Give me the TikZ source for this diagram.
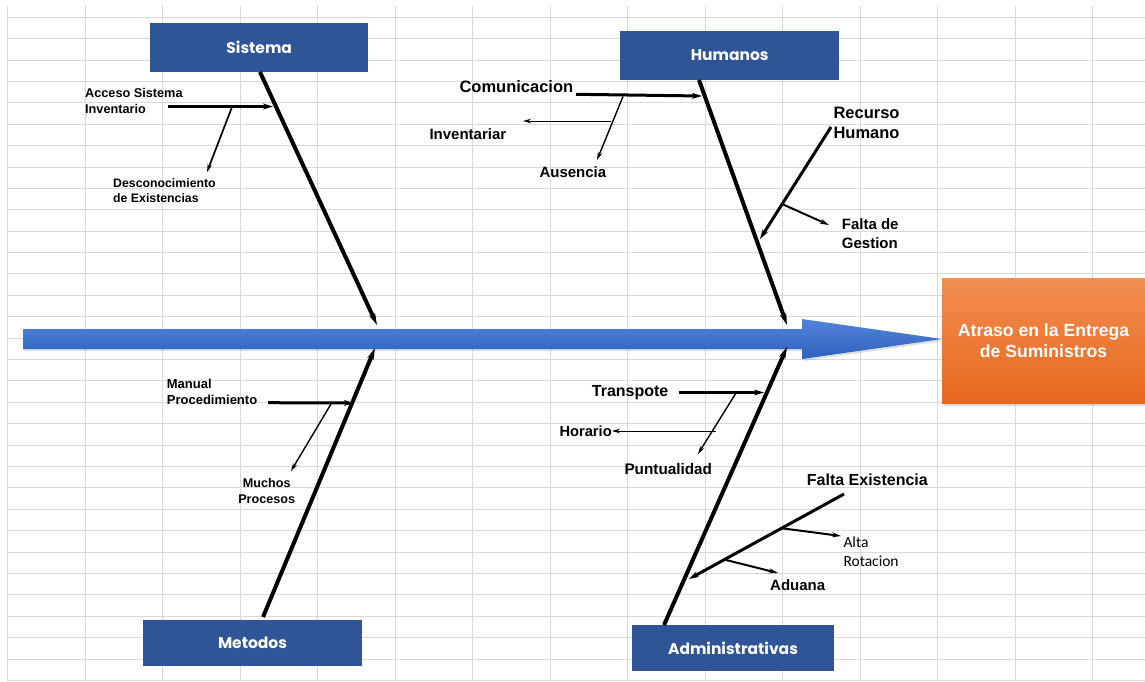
\documentclass[tikz,border=0pt]{standalone}
\usepackage{fontspec}
\setmainfont{Liberation Sans}
\newfontfamily\hdrfont{Poppins}
\newfontfamily\calfont{Carlito}
\usetikzlibrary{arrows.meta,shadows}
\definecolor{hdrblue}{HTML}{2F5597}
\definecolor{gridgray}{HTML}{D9D9D9}
\definecolor{arrowtop}{HTML}{5285D8}
\definecolor{arrowbot}{HTML}{2C60BE}
\definecolor{effecttop}{HTML}{F18D52}
\definecolor{effectbot}{HTML}{E8691C}
\begin{document}
\begin{tikzpicture}[x=1pt,y=-1pt,
  gridline/.style={draw=gridgray,line width=1pt},
  hdr/.style={rectangle,fill=hdrblue,text=white,inner sep=0pt,
    font=\hdrfont\bfseries\fontsize{15.5}{18}\selectfont},
  lbl/.style={anchor=west,inner sep=0pt,align=left},
  spine/.style={line width=4pt,-{Stealth[length=12pt,width=6.5pt]}},
  branch/.style={line width=3pt,-{Stealth[length=10pt,width=6pt]}},
  twig/.style={line width=1.4pt,-{Stealth[length=8pt,width=4.5pt]}},
  twigb/.style={line width=2pt,-{Stealth[length=9pt,width=5pt]}}
]
\useasboundingbox (0,0) rectangle (1145,681);
\fill[white] (0,0) rectangle (1145,681);

% spreadsheet grid
\foreach \i in {0,...,14}
  \draw[gridline] (7.5+77.5*\i,6) -- (7.5+77.5*\i,681);
\foreach \j in {0,...,31}
  \draw[gridline] (7.5,17.3+21.39*\j) -- (1145,17.3+21.39*\j);

% main backbone arrow
\shade[top color=arrowtop,bottom color=arrowbot,
  drop shadow={opacity=0.25,shadow xshift=1.5pt,shadow yshift=-2pt}]
  (23,329) -- (802,329) -- (802,319) -- (942,339) -- (802,359)
  -- (802,349) -- (23,349) -- cycle;

% effect box
\node[rectangle,minimum width=203pt,minimum height=125pt,inner sep=0pt,
  top color=effecttop,bottom color=effectbot,text=white,align=center,
  drop shadow={opacity=0.3,shadow xshift=2pt,shadow yshift=-2.5pt},
  font=\bfseries\fontsize{17.6}{21.6}\selectfont]
  (eff) at (1043.5,340.8) {\raisebox{-3pt}{\parbox{200pt}{\centering Atraso en la Entrega\\de Suministros}}};

% category headers
\node[hdr,minimum width=218.3pt,minimum height=49.3pt] (sis) at (259.2,47.3) {Sistema};
\node[hdr,minimum width=219.3pt,minimum height=49.3pt] (hum) at (729.7,55.3) {Humanos};
\node[hdr,minimum width=218.4pt,minimum height=46pt] (met) at (252.5,643) {Metodos};
\node[hdr,minimum width=202pt,minimum height=46pt] (adm) at (733,648) {Administrativas};

% spine end points
\coordinate (sisA) at (260,72);   \coordinate (sisB) at (377,325);
\coordinate (humA) at (699,80);   \coordinate (humB) at (787,325);
\coordinate (metA) at (263,617);  \coordinate (metB) at (375,348);
\coordinate (admA) at (664,625);  \coordinate (admB) at (787,347);

\draw[spine] (sisA) -- (sisB);
\draw[spine] (humA) -- (humB);
\draw[spine] (metA) -- (metB);
\draw[spine] (admA) -- (admB);

% cause labels
\node[lbl,font=\bfseries\fontsize{12.7}{16}\selectfont] (acc) at (85,101) {Acceso Sistema\\Inventario};
\node[lbl,font=\bfseries\fontsize{12.3}{15.6}\selectfont] (des) at (113,190.5) {Desconocimiento\\de Existencias};
\node[lbl,font=\bfseries\fontsize{16.5}{20}\selectfont] (com) at (459.3,86.7) {Comunicacion};
\node[lbl,font=\bfseries\fontsize{15}{18}\selectfont] (inv) at (429.3,134.3) {Inventariar};
\node[lbl,font=\bfseries\fontsize{15}{18}\selectfont] (aus) at (539.3,171.7) {Ausencia};
\node[lbl,font=\bfseries\fontsize{16.5}{19.4}\selectfont] (rec) at (833.3,123) {Recurso\\Humano};
\node[lbl,font=\bfseries\fontsize{15}{19.3}\selectfont] (fdg) at (841.7,233.7) {Falta de\\Gestion};
\node[lbl,font=\bfseries\fontsize{13}{16}\selectfont] (man) at (166.7,392) {Manual\\Procedimiento};
\node[inner sep=0pt,align=center,font=\bfseries\fontsize{12.6}{15.7}\selectfont] (muc) at (266.7,491.2) {Muchos\\Procesos};
\node[lbl,font=\bfseries\fontsize{16}{19}\selectfont] (tra) at (591.7,392.7) {Transpote};
\node[lbl,font=\bfseries\fontsize{14.7}{18}\selectfont] (hor) at (559.3,431) {Horario};
\node[lbl,font=\bfseries\fontsize{15.3}{18}\selectfont] (pun) at (624.3,469) {Puntualidad};
\node[lbl,font=\bfseries\fontsize{16}{19}\selectfont] (fex) at (806.7,480) {Falta Existencia};
\node[lbl,font=\calfont\fontsize{15.5}{19}\selectfont] (alt) at (843.3,551.2) {Alta\\Rotacion};
\node[lbl,font=\bfseries\fontsize{15}{18}\selectfont] (adu) at (770,585) {Aduana};

% Sistema causes
\coordinate (accA) at (168,106.5);  \coordinate (accB) at (273,106.5);
\coordinate (desA) at (232,107);    \coordinate (desB) at (207,172);
\draw[branch] (accA) -- (accB);
\draw[twig,line width=1.7pt] (desA) -- (desB);

% Humanos causes
\coordinate (comA) at (576,94.3);   \coordinate (comB) at (702,96);
\coordinate (ausA) at (623,96.5);   \coordinate (ausB) at (597,160);
\coordinate (invA) at (611,121);    \coordinate (invB) at (523,121);
\draw[branch] (comA) -- (comB);
\draw[twig] (ausA) -- (ausB);
\draw[twig,line width=1pt] (invA) -- (invB);

\coordinate (recA) at (831,127);    \coordinate (recB) at (760,239);
\coordinate (fdgA) at (782,204);    \coordinate (fdgB) at (829,225);
\draw[branch] (recA) -- (recB);
\draw[twigb] (fdgA) -- (fdgB);

% Metodos causes
\coordinate (manA) at (268,402.7);  \coordinate (manB) at (354,403);
\coordinate (mucA) at (331,404);    \coordinate (mucB) at (291,471);
\draw[branch] (manA) -- (manB);
\draw[twig] (mucA) -- (mucB);

% Administrativas causes
\coordinate (traA) at (679,392.5);  \coordinate (traB) at (764,392.5);
\coordinate (punA) at (736,393);    \coordinate (punB) at (698,454);
\coordinate (horA) at (716,431);    \coordinate (horB) at (612,431);
\draw[branch] (traA) -- (traB);
\draw[twig] (punA) -- (punB);
\draw[twig,line width=1pt] (horA) -- (horB);

\coordinate (fexA) at (844,494);    \coordinate (fexB) at (689,579);
\coordinate (altA) at (780,528);    \coordinate (altB) at (841,536);
\coordinate (aduA) at (726,560);    \coordinate (aduB) at (778,573);
\draw[branch] (fexA) -- (fexB);
\draw[twigb] (altA) -- (altB);
\draw[twigb] (aduA) -- (aduB);
\end{tikzpicture}
\end{document}
